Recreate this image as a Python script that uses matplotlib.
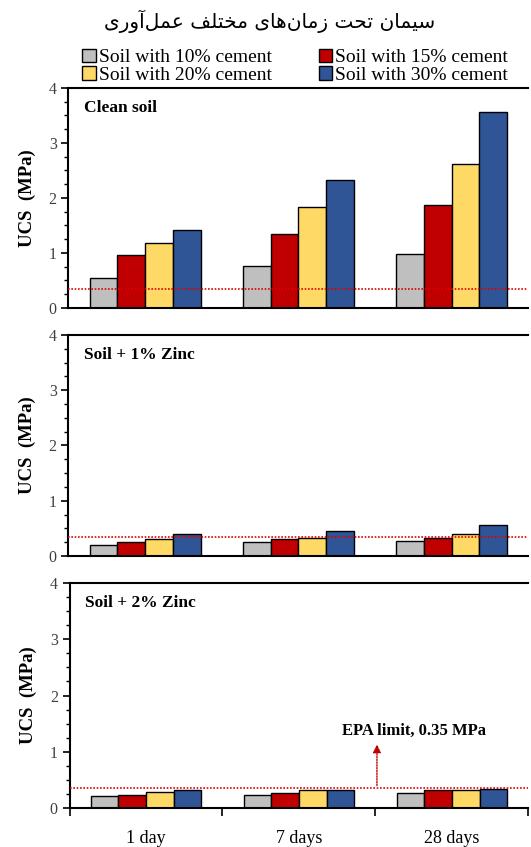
import matplotlib
matplotlib.use('Agg')
import matplotlib.pyplot as plt
from matplotlib.patches import Patch
import numpy as np

# data (UCS, MPa)
ages = ['1 day', '7 days', '28 days']
series = ['Soil with 10% cement', 'Soil with 15% cement',
          'Soil with 20% cement', 'Soil with 30% cement']
clean_soil = [[0.55, 0.76, 0.99],
              [0.96, 1.35, 1.87],
              [1.19, 1.84, 2.62],
              [1.42, 2.33, 3.57]]
zinc_1 = [[0.20, 0.25, 0.28],
          [0.25, 0.31, 0.33],
          [0.31, 0.33, 0.40],
          [0.40, 0.46, 0.56]]
zinc_2 = [[0.21, 0.24, 0.26],
          [0.24, 0.26, 0.32],
          [0.29, 0.32, 0.32],
          [0.32, 0.32, 0.34]]
panel_names = ['Clean soil', 'Soil + 1% Zinc', 'Soil + 2% Zinc']
epa_limit = 0.35
colors = ['#BFBFBF', '#C00000', '#FFD966', '#2F5597']

title_fa = 'سیمان تحت زمان\u200cهای مختلف عمل\u200cآوری'

# simple arabic shaping (matplotlib has no shaping / bidi)
forms = {
    'س': ('\uFEB1', '\uFEB2', '\uFEB3', '\uFEB4'),
    'ی': ('\uFBFC', '\uFBFD', '\uFBFE', '\uFBFF'),
    'م': ('\uFEE1', '\uFEE2', '\uFEE3', '\uFEE4'),
    'ن': ('\uFEE5', '\uFEE6', '\uFEE7', '\uFEE8'),
    'ت': ('\uFE95', '\uFE96', '\uFE97', '\uFE98'),
    'ح': ('\uFEA1', '\uFEA2', '\uFEA3', '\uFEA4'),
    'ه': ('\uFEE9', '\uFEEA', '\uFEEB', '\uFEEC'),
    'خ': ('\uFEA5', '\uFEA6', '\uFEA7', '\uFEA8'),
    'ل': ('\uFEDD', '\uFEDE', '\uFEDF', '\uFEE0'),
    'ف': ('\uFED1', '\uFED2', '\uFED3', '\uFED4'),
    'ع': ('\uFEC9', '\uFECA', '\uFECB', '\uFECC'),
    'ا': ('\uFE8D', '\uFE8E'),
    'ز': ('\uFEAF', '\uFEB0'),
    'آ': ('\uFE81', '\uFE82'),
    'و': ('\uFEED', '\uFEEE'),
    'ر': ('\uFEAD', '\uFEAE'),
}


def shape(text):
    out = []
    n = len(text)
    for i, ch in enumerate(text):
        if ch not in forms:
            if ch != '\u200c':
                out.append(ch)
            continue
        prev = text[i - 1] if i > 0 else ''
        nxt = text[i + 1] if i < n - 1 else ''
        join_prev = prev in forms and len(forms[prev]) == 4
        join_next = nxt in forms and len(forms[ch]) == 4
        f = forms[ch]
        if join_prev and join_next:
            out.append(f[3])
        elif join_prev:
            out.append(f[1])
        elif join_next:
            out.append(f[2])
        else:
            out.append(f[0])
    return ''.join(out)[::-1]


plt.rcParams['font.family'] = ['Liberation Serif', 'DejaVu Serif']

fig = plt.figure(figsize=(5.31, 8.47), dpi=100)
boxes = [[0.129, 0.6364, 0.866, 0.2597],
         [0.129, 0.3436, 0.866, 0.2609],
         [0.131, 0.0460, 0.864, 0.2656]]
x = np.arange(len(ages))
w = 0.181
all_data = [clean_soil, zinc_1, zinc_2]

for k, (box, data) in enumerate(zip(boxes, all_data)):
    ax = fig.add_axes(box)
    for j in range(4):
        ax.bar(x + (j - 1.5) * w, data[j], w, color=colors[j],
               edgecolor='black', linewidth=1.0, zorder=2)
    ax.axhline(epa_limit, color='#E00000', linestyle=(0, (1, 1)), lw=1.2, zorder=3)
    ax.set_xlim(-0.5, 2.5)
    ax.set_ylim(0, 4)
    ax.set_yticks([0, 1, 2, 3, 4])
    ax.set_yticks(np.arange(0, 4.01, 0.25), minor=True)
    ax.tick_params(axis='y', which='major', length=5, width=1.2, labelsize=11.5,
                   labelcolor='#404040', direction='out')
    ax.tick_params(axis='y', which='minor', length=3, width=1.0, direction='out')
    for s in ['left', 'top', 'bottom']:
        ax.spines[s].set_linewidth(1.5)
    ax.spines['right'].set_visible(False)
    ax.set_ylabel('UCS  (MPa)', fontsize=13.5, fontweight='bold', labelpad=9)
    ax.text(0.033, 0.91, panel_names[k], transform=ax.transAxes, fontsize=12.5,
            fontweight='bold', va='center', ha='left')
    if k < 2:
        ax.set_xticks([])
    else:
        ax.set_xticks([-0.5, 0.5, 1.5, 2.5])
        ax.set_xticklabels([])
        ax.set_xticks(x, minor=True)
        ax.set_xticklabels(ages, minor=True, fontsize=13)
        ax.tick_params(axis='x', which='major', length=6, width=1.2, direction='out')
        ax.tick_params(axis='x', which='minor', length=0, pad=16)
        ax.annotate('', xy=(1.51, 1.18), xytext=(1.51, epa_limit),
                    arrowprops=dict(arrowstyle='-|>', color='#C00000', lw=1.0,
                                    linestyle=(0, (1, 1)), mutation_scale=12))
        ax.text(1.75, 1.38, 'EPA limit, 0.35 MPa', fontsize=12, fontweight='bold',
                ha='center', va='center')

# row-wise legend order (10,15 / 20,30) for ncol=2
order = [0, 2, 1, 3]
handles = [Patch(facecolor=colors[i], edgecolor='black', linewidth=1.0) for i in order]
labels = [series[i] for i in order]
fig.legend(handles, labels, ncol=2, loc='center', bbox_to_anchor=(0.556, 0.9215),
           frameon=False, fontsize=14, handlelength=0.7, handleheight=0.7,
           handletextpad=0.15, columnspacing=2.4, labelspacing=0.0, borderpad=0)

fig.text(0.508, 0.975, shape(title_fa), family=['DejaVu Sans'], fontsize=14.5,
         ha='center', va='center')

fig.savefig('out.png', dpi=100)
